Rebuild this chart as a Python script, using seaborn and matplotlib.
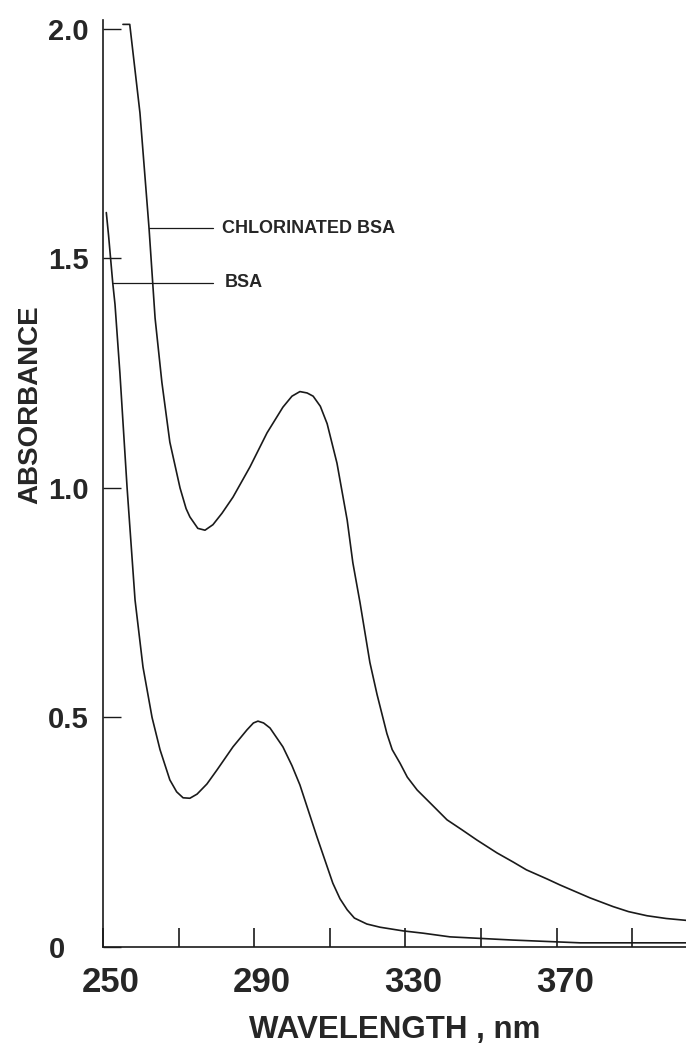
# Absorption spectra of BSA and chlorinated BSA
import pandas as pd
import seaborn as sns
import matplotlib
matplotlib.use('Agg')
import matplotlib.pyplot as plt
from matplotlib import font_manager, transforms

# Data (wavelength in nm, absorbance)
chl_nm = [255.3, 257.1, 259.8, 262.2, 263.8, 265.6, 267.7, 270.4, 272.0, 273.0, 275.1,
          277.0, 279.1, 281.5, 284.4, 288.9, 293.4, 297.6, 300.0, 302.1, 304.0, 305.6,
          307.5, 309.3, 311.9, 314.6, 316.1, 318.0, 320.6, 322.5, 325.1, 326.5, 328.6,
          330.5, 333.1, 337.0, 341.0, 345.0, 348.9, 354.2, 358.5, 362.0, 367.5, 370.9,
          378.8, 384.9, 389.0, 393.9, 399.0, 404.2]
chl_abs = [2.01, 2.01, 1.817, 1.566, 1.37, 1.23, 1.10, 1.00, 0.955, 0.937, 0.912,
           0.908, 0.92, 0.945, 0.98, 1.046, 1.12, 1.176, 1.20, 1.21, 1.207, 1.20,
           1.178, 1.14, 1.054, 0.93, 0.837, 0.75, 0.62, 0.55, 0.465, 0.43, 0.40,
           0.37, 0.342, 0.31, 0.277, 0.255, 0.233, 0.205, 0.185, 0.168, 0.148, 0.135,
           0.107, 0.088, 0.077, 0.068, 0.062, 0.058]

bsa_nm = [250.9, 251.5, 252.6, 253.2, 254.5, 256.4, 258.5, 260.6, 263.0, 265.1, 267.7,
          269.5, 271.2, 273.0, 274.9, 277.5, 280.2, 284.4, 288.1, 289.8, 291.0, 292.5,
          294.2, 297.6, 300.0, 302.1, 306.6, 310.8, 312.7, 314.6, 316.5, 319.8, 323.3,
          329.4, 334.7, 341.8, 358.5, 376.2, 404.2]
bsa_abs = [1.60, 1.55, 1.447, 1.40, 1.25, 1.00, 0.756, 0.61, 0.50, 0.43, 0.364,
           0.338, 0.325, 0.324, 0.333, 0.355, 0.386, 0.436, 0.473, 0.488, 0.492, 0.488,
           0.477, 0.436, 0.395, 0.353, 0.24, 0.139, 0.105, 0.081, 0.063, 0.050, 0.043,
           0.035, 0.03, 0.022, 0.015, 0.009, 0.009]

x_ticks = [250, 270, 290, 310, 330, 350, 370, 390]
x_labels = ['250', '', '290', '', '330', '', '370', '']
y_ticks = [0, 0.5, 1.0, 1.5, 2.0]
y_labels = ['0', '0.5', '1.0', '1.5', '2.0']

df = pd.concat([
    pd.DataFrame({'nm': chl_nm, 'abs': chl_abs, 'sample': 'CHLORINATED BSA'}),
    pd.DataFrame({'nm': bsa_nm, 'abs': bsa_abs, 'sample': 'BSA'}),
])

sns.set_style('ticks')
names = {f.name for f in font_manager.fontManager.ttflist}
has_narrow = 'Liberation Sans Narrow' in names
narrow = 'Liberation Sans Narrow' if has_narrow else 'Liberation Sans'
plt.rcParams['font.family'] = ['Liberation Sans', 'DejaVu Sans']

fig = plt.figure(figsize=(6.86, 10.53), dpi=100)
ax = fig.add_axes([0.150, 0.1007, 0.850, 0.8805])

sns.lineplot(data=df, x='nm', y='abs', hue='sample', units='sample', estimator=None,
             sort=False, palette={'CHLORINATED BSA': '#1a1a1a', 'BSA': '#1a1a1a'},
             linewidth=1.2, legend=False, ax=ax)
for ln in ax.lines:
    ln.set_solid_joinstyle('round')

ax.set_xlim(250, 404.2)
ax.set_ylim(0, 2.02)
sns.despine(ax=ax)
for s in ['left', 'bottom']:
    ax.spines[s].set_linewidth(1.2)
    ax.spines[s].set_color('#1a1a1a')

ax.set_xticks(x_ticks)
ax.set_xticklabels(x_labels, fontsize=25, fontweight='bold')
ax.set_yticks(y_ticks)
ax.set_yticklabels(y_labels, fontsize=21, fontweight='bold')
ax.tick_params(axis='x', direction='in', length=14, width=1.2, pad=14, color='#1a1a1a')
ax.tick_params(axis='y', direction='in', length=13, width=1.0, pad=10, color='#1a1a1a')
ax.set_xlabel('')
ax.set_ylabel('')

# hand-lettered labels sit a little right of their ticks
shift = transforms.ScaledTranslation(0.08, 0, fig.dpi_scale_trans)
for lab in ax.get_xticklabels():
    lab.set_transform(lab.get_transform() + shift)
zero = ax.get_yticklabels()[0]
zero.set_transform(zero.get_transform() + transforms.ScaledTranslation(-0.24, 0, fig.dpi_scale_trans))

# leader lines and curve labels
ax.plot([262.2, 279.1], [1.566, 1.566], color='#1a1a1a', lw=0.9)
ax.plot([252.6, 279.1], [1.447, 1.447], color='#1a1a1a', lw=0.9)
ax.text(281.5, 1.566, 'CHLORINATED BSA', fontsize=13, fontweight='bold', va='center', ha='left')
ax.text(282.3, 1.447, 'BSA', fontsize=13, fontweight='bold', va='center', ha='left')

fig.text(0.044, 0.616, 'ABSORBANCE', rotation=90, ha='center', va='center',
         fontsize=23 if has_narrow else 20, fontweight='bold', family=narrow)
fig.text(0.576, 0.022, 'WAVELENGTH , nm', ha='center', va='center',
         fontsize=25 if has_narrow else 22.5, fontweight='bold', family=narrow)

fig.savefig('out.png', dpi=100)
